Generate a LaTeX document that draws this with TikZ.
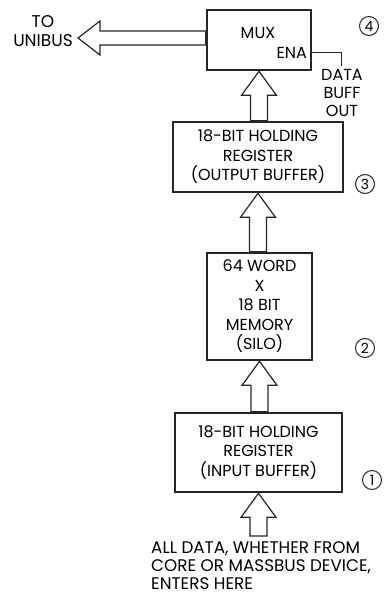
\documentclass[tikz,border=0pt]{standalone}
\usepackage{fontspec}
\setmainfont{Poppins}
\usetikzlibrary{calc}
\tikzset{
  blk/.style={draw=black!85, line width=2.6pt, rectangle, inner sep=0pt, align=center, font=\fontsize{16}{19.5}\selectfont},
  hollow/.style={draw=black!85, line width=1.2pt, line join=miter},
  txt/.style={font=\fontsize{16}{19.5}\selectfont, align=center, inner sep=0pt},
  small/.style={font=\fontsize{16}{18}\selectfont, align=center, inner sep=0pt},
  num/.style={draw=black!85, line width=1pt, circle, minimum size=19pt, inner sep=0pt, font=\fontsize{14}{15}\selectfont},
  wire/.style={draw=black!85, line width=1pt}
}
\newcommand\uparr[2]{%
  \draw[hollow] let \p1=(#1), \p2=(#2) in
    (\x2,\y2) -- (\x2+17.5pt,\y2-24pt) -- (\x2+8.5pt,\y2-24pt) -- (\x2+8.5pt,\y1)
    -- (\x2-8.5pt,\y1) -- (\x2-8.5pt,\y2-24pt) -- (\x2-17.5pt,\y2-24pt) -- cycle;}
\begin{document}
\begin{tikzpicture}[x=1pt,y=-1pt]
\useasboundingbox (0,0) rectangle (383,596);
% boxes
\node[blk, minimum width=104pt, minimum height=60pt] (mux) at (259,40) {};
\node[txt] (muxt) at (258,33) {MUX};
\node[txt, anchor=east] (ena) at (307,53) {ENA};
\node[blk, minimum width=170pt, minimum height=70pt] (ob) at (258,157)
  {18-BIT HOLDING\\REGISTER\\(OUTPUT BUFFER)};
\node[blk, minimum width=105pt, minimum height=107pt] (mem) at (259.5,306.5)
  {64 WORD\\X\\18 BIT\\MEMORY\\(SILO)};
\node[blk, minimum width=167pt, minimum height=79pt] (ib) at (258.5,452.5)
  {18-BIT HOLDING\\REGISTER\\(INPUT BUFFER)};
% circles
\node[num] (c4) at (369,26) {4};
\node[num] (c3) at (365,184) {3};
\node[num] (c2) at (365,348) {2};
\node[num] (c1) at (372,480) {1};
% side labels
\node[txt, font=\fontsize{17}{19.5}\selectfont] (unibus) at (43,31) {TO\\UNIBUS};
\node[small] (dbo) at (342,93) {DATA\\BUFF\\OUT};
% ENA wire
\coordinate (enaend) at (341,66);
\draw[wire] (mux.east |- ena) -| (enaend);
% up arrows
\uparr{ob.north}{mux.south}
\uparr{mem.north}{ob.south}
\uparr{ib.north}{mem.south}
\coordinate (src) at (258.5,536);
\uparr{src}{ib.south}
% left arrow to unibus
\coordinate (tip) at (78,38);
\draw[hollow] let \p1=(mux.west), \p2=(tip) in
  (\x2,\y2) -- (\x2+22pt,\y2+17pt) -- (\x2+22pt,\y2+7pt) -- (\x1,\y2+7pt)
  -- (\x1,\y2-7pt) -- (\x2+22pt,\y2-7pt) -- (\x2+22pt,\y2-17pt) -- cycle;
% bottom text
\node[txt, align=left, anchor=north west, font=\fontsize{16.8}{18}\selectfont] (bot) at (151,541)
  {ALL DATA, WHETHER FROM\\CORE OR MASSBUS DEVICE,\\ENTERS HERE};
\end{tikzpicture}
\end{document}
